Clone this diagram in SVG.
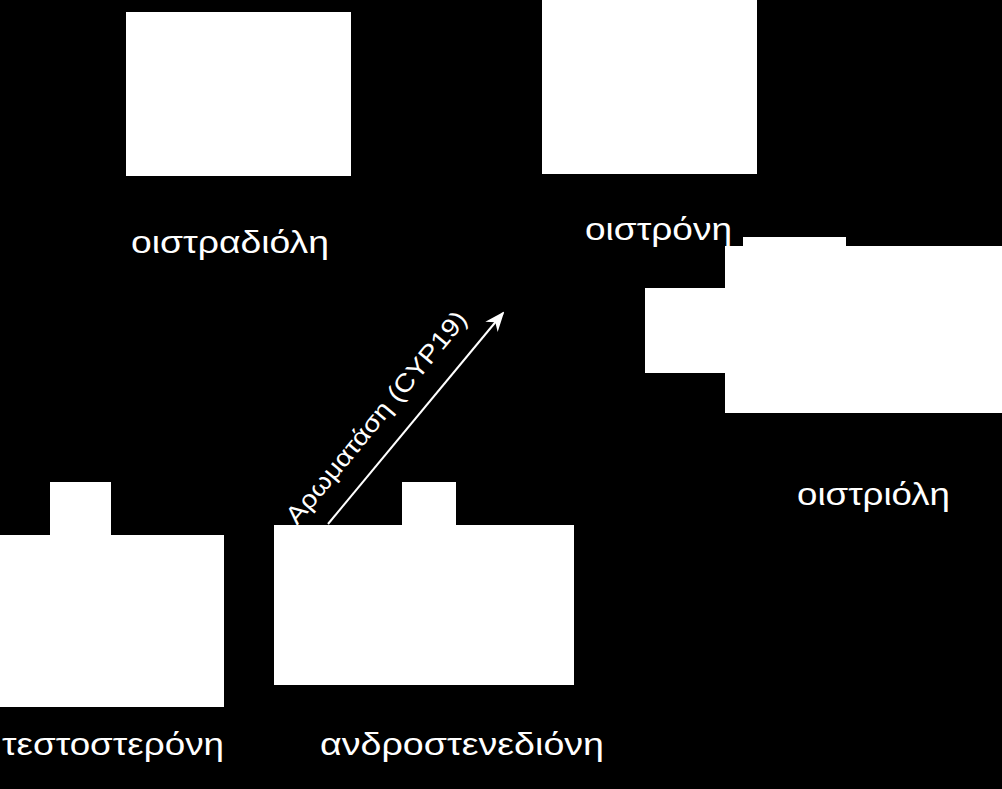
<svg xmlns="http://www.w3.org/2000/svg" width="1002" height="789" viewBox="0 0 1002 789">
<defs>
<style>
.bg{fill:#000}
.box{fill:#fff}
.lbl{font-family:"Liberation Sans",Arial,sans-serif;font-size:32px;fill:#fff}
.elbl{font-family:"Liberation Sans",Arial,sans-serif;font-size:25px;fill:#fff}
.conn{stroke:#fff;stroke-width:2;fill:none}
</style>
<marker id="ah" viewBox="0 0 20 20" refX="18" refY="10" markerWidth="20" markerHeight="20" markerUnits="userSpaceOnUse" orient="auto">
<path d="M0,2 L20,10 L0,18 L6,10 Z" fill="#fff"/>
</marker>
</defs>
<rect class="bg" x="0" y="0" width="1002" height="789"/>
<g id="estradiol">
<rect class="box" x="126" y="12" width="225" height="164"/>
<text class="lbl" x="131" y="253" textLength="198" lengthAdjust="spacingAndGlyphs">οιστραδιόλη</text>
</g>
<g id="estrone">
<rect class="box" x="542" y="0" width="215" height="174"/>
<text class="lbl" x="585" y="240" textLength="147" lengthAdjust="spacingAndGlyphs">οιστρόνη</text>
</g>
<g id="estriol">
<rect class="box" x="743" y="237" width="103" height="12"/>
<rect class="box" x="725" y="246" width="277" height="167"/>
<rect class="box" x="645" y="288" width="82" height="85"/>
<text class="lbl" x="797" y="505" textLength="153" lengthAdjust="spacingAndGlyphs">οιστριόλη</text>
</g>
<g id="testosterone">
<rect class="box" x="50" y="482" width="61" height="55"/>
<rect class="box" x="0" y="535" width="224" height="172"/>
<text class="lbl" x="2" y="755" textLength="222" lengthAdjust="spacingAndGlyphs">τεστοστερόνη</text>
</g>
<g id="androstenedione">
<rect class="box" x="402" y="482" width="54" height="45"/>
<rect class="box" x="274" y="525" width="300" height="160"/>
<text class="lbl" x="320" y="755" textLength="284" lengthAdjust="spacingAndGlyphs">ανδροστενεδιόνη</text>
</g>
<g id="connectors">
<line class="conn" x1="328" y1="524" x2="503" y2="313" marker-end="url(#ah)"/>
<text class="elbl" transform="translate(297,526) rotate(-50.3)" textLength="268" lengthAdjust="spacingAndGlyphs">Αρωματάση (CYP19)</text>
</g>
</svg>
